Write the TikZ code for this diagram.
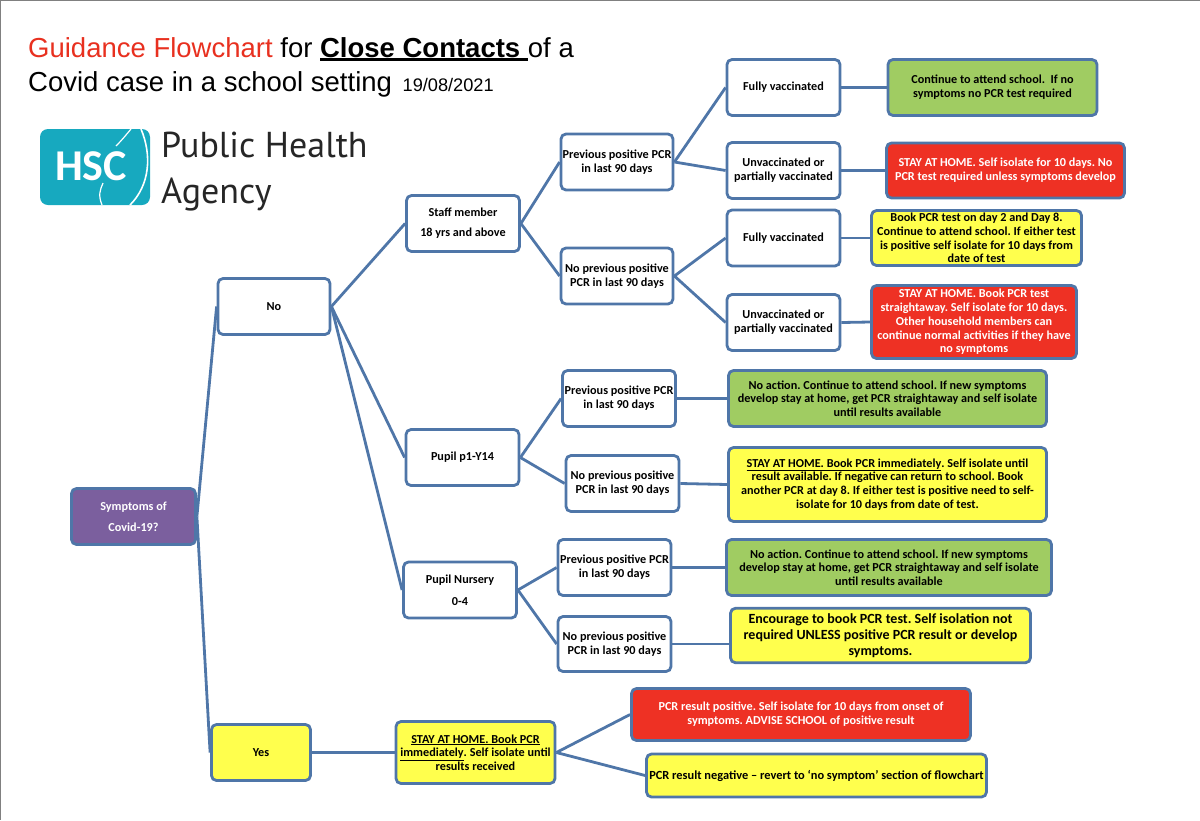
\documentclass[tikz,border=0pt]{standalone}
\usepackage{fontspec}
\setmainfont{Carlito}
\newfontfamily\titlefont{Liberation Sans}
\newfontfamily\logofont{PT Sans}
\definecolor{linkblue}{HTML}{4F76A8}
\definecolor{boxgreen}{HTML}{A0CC62}
\definecolor{boxred}{HTML}{EE3124}
\definecolor{boxyellow}{HTML}{FFFF4D}
\definecolor{boxpurple}{HTML}{7B5F9E}
\definecolor{logoteal}{HTML}{17A9BF}
\definecolor{titlered}{HTML}{E8301F}
\newcommand{\titleul}[1]{\setbox0\hbox{#1}\rlap{\rule[-4pt]{\wd0}{2.6pt}}\box0}
\tikzset{
    whitebox/.style={draw=linkblue, line width=2.8pt, rounded corners=5pt, fill=white, align=center, inner sep=0pt,
        font=\fontsize{12.2}{13.7}\selectfont\bfseries},
    greenbox/.style={whitebox, fill=boxgreen},
    redbox/.style={whitebox, fill=boxred, text=white},
    yellowbox/.style={whitebox, fill=boxyellow},
    link/.style={draw=linkblue, line width=2.8pt},
}
\begin{document}
\frenchspacing
\begin{tikzpicture}[x=1pt, y=-1pt]
    \useasboundingbox (0,0) rectangle (1200,820);
    % page edge
    \draw[gray, line width=2pt] (0,820) -- (0,0) -- (1200,0);
    % heading
    \node[anchor=base west, inner sep=0pt, font=\titlefont\fontsize{27.5}{30}\selectfont] (title1) at (28,57)
        {\textcolor{titlered}{Guidance Flowchart} for \titleul{\textbf{Close Contacts }}of a};
    \node[anchor=base west, inner sep=0pt, font=\titlefont\fontsize{27.5}{30}\selectfont] (title2) at (28,91)
        {Covid case in a school setting\hspace{3pt} {\fontsize{18.2}{20}\selectfont 19/08/2021}};
    % logo
    \fill[logoteal, rounded corners=8pt] (40,129) rectangle (150,205);
    \draw[white, line width=1.6pt] (141,129) .. controls (152,155) and (150,185) .. (130,205);
    \draw[white, line width=1.2pt] (116,146) .. controls (122,140) and (126,135) .. (131,129);
    \draw[white, line width=1.2pt] (102,205) .. controls (98,195) and (100,190) .. (103,183);
    \node[anchor=center, inner sep=0pt, text=white, font=\bfseries\fontsize{44}{46}\selectfont] (hsc) at (91,166) {HSC};
    \node[anchor=base west, inner sep=0pt, text=black!85, font=\logofont\fontsize{36}{40}\selectfont] (pha1) at (161,157) {Public Health};
    \node[anchor=base west, inner sep=0pt, text=black!85, font=\logofont\fontsize{36}{40}\selectfont] (pha2) at (161,203) {Agency};
    % first levels
    \node[whitebox, fill=boxpurple, text=white, minimum width=124, minimum height=56, font=\fontsize{12.2}{21}\selectfont\bfseries] (symptoms) at (133.5,516.5) {Symptoms of\\Covid-19?};
    \node[whitebox, minimum width=112, minimum height=56] (no) at (274,306.5) {No};
    \node[yellowbox, minimum width=99, minimum height=56] (yes) at (261,752.5) {Yes};
    \node[whitebox, minimum width=113, minimum height=56, font=\fontsize{12.2}{20}\selectfont\bfseries] (staff) at (463,223.5) {Staff member\\18 yrs and above};
    \node[whitebox, minimum width=113, minimum height=56] (pupil) at (462.5,457.5) {Pupil p1-Y14};
    \node[whitebox, minimum width=113, minimum height=56, font=\fontsize{12.2}{22}\selectfont\bfseries] (nursery) at (460,590) {Pupil Nursery\\0-4};
    % staff
    \node[whitebox, minimum width=112, minimum height=56] (staffprev) at (617,162) {Previous positive PCR\\in last 90 days};
    \node[whitebox, minimum width=112, minimum height=56] (staffnoprev) at (617,276) {No previous positive\\PCR in last 90 days};
    \node[whitebox, minimum width=113, minimum height=56] (full1) at (783.5,87.5) {Fully vaccinated};
    \node[whitebox, minimum width=113, minimum height=56] (part1) at (783.5,170.5) {Unvaccinated or\\partially vaccinated};
    \node[whitebox, minimum width=113, minimum height=56] (full2) at (783.5,238) {Fully vaccinated};
    \node[whitebox, minimum width=113, minimum height=56] (part2) at (783.5,322.5) {Unvaccinated or\\partially vaccinated};
    \node[greenbox, minimum width=209, minimum height=56] (stafffullA) at (992.5,87.5) {Continue to attend school.\ \ If no\\symptoms no PCR test required};
    \node[redbox, minimum width=238, minimum height=55] (staffpartA) at (1005.5,170.5) {STAY AT HOME. Self isolate for 10 days. No\\PCR test required unless symptoms develop};
    \node[yellowbox, minimum width=210, minimum height=55] (stafffullB) at (976.5,238) {Book PCR test on day 2 and Day 8.\\Continue to attend school. If either test\\is positive self isolate for 10 days from\\date of test};
    \node[redbox, minimum width=205, minimum height=73] (staffpartB) at (974,322) {STAY AT HOME. Book PCR test\\straightaway. Self isolate for 10 days.\\Other household members can\\continue normal activities if they have\\no symptoms};
    % pupil
    \node[whitebox, minimum width=113, minimum height=56] (pupilprev) at (619,398.5) {Previous positive PCR\\in last 90 days};
    \node[whitebox, minimum width=113, minimum height=56] (pupilnoprev) at (622.5,483.5) {No previous positive\\PCR in last 90 days};
    \node[greenbox, minimum width=318, minimum height=56] (pupilgreen) at (887.5,398.5) {No action. Continue to attend school. If new symptoms\\develop stay at home, get PCR straightaway and self isolate\\until results available};
    \node[yellowbox, minimum width=318, minimum height=74] (pupilyellow) at (887.5,484.5) {\underline{STAY AT HOME. Book PCR immediately}. Self isolate until\\result available. If negative can return to school. Book\\another PCR at day 8. If either test is positive need to self-\\isolate for 10 days from date of test.};
    % nursery
    \node[whitebox, minimum width=113, minimum height=56] (nurseryprev) at (614.5,567.5) {Previous positive PCR\\in last 90 days};
    \node[whitebox, minimum width=113, minimum height=55] (nurserynoprev) at (614.5,644) {No previous positive\\PCR in last 90 days};
    \node[greenbox, minimum width=325, minimum height=56] (nurserygreen) at (889,567.5) {No action. Continue to attend school. If new symptoms\\develop stay at home, get PCR straightaway and self isolate\\until results available};
    \node[yellowbox, minimum width=300, minimum height=54.5, font=\fontsize{14}{16}\selectfont\bfseries] (nurseryyellow) at (880.5,635.5) {Encourage to book PCR test. Self isolation not\\required UNLESS positive PCR result or develop\\symptoms.};
    % symptoms
    \node[yellowbox, minimum width=159, minimum height=62] (stayhome) at (475.5,752.5) {\underline{STAY AT HOME. Book PCR}\\\underline{immediately}. Self isolate until\\results received};
    \node[redbox, minimum width=339, minimum height=52] (positive) at (801,714.5) {PCR result positive. Self isolate for 10 days from onset of\\symptoms. ADVISE SCHOOL of positive result};
    \node[yellowbox, minimum width=340, minimum height=43, font=\fontsize{12.4}{13.7}\selectfont\bfseries] (negative) at (816.5,775.5) {PCR result negative – revert to ‘no symptom’ section of flowchart};
    % links
    \draw[link] (symptoms.east) -- (no.west);
    \draw[link] (symptoms.east) -- (yes.west);
    \draw[link] (no.east) -- (staff.west);
    \draw[link] (no.east) -- (pupil.west);
    \draw[link] (no.east) -- (nursery.west);
    \draw[link] (yes.east) -- (stayhome.west);
    \draw[link] (stayhome.east) -- (positive.west);
    \draw[link] (stayhome.east) -- (negative.west);
    \draw[link] (staff.east) -- (staffprev.west);
    \draw[link] (staff.east) -- (staffnoprev.west);
    \draw[link] (staffprev.east) -- (full1.west);
    \draw[link] (staffprev.east) -- (part1.west);
    \draw[link] (staffnoprev.east) -- (full2.west);
    \draw[link] (staffnoprev.east) -- (part2.west);
    \draw[link] (full1.east) -- (stafffullA.west);
    \draw[link] (part1.east) -- (staffpartA.west);
    \draw[link] (full2.east) -- (stafffullB.west);
    \draw[link] (part2.east) -- (staffpartB.west);
    \draw[link] (pupil.east) -- (pupilprev.west);
    \draw[link] (pupil.east) -- (pupilnoprev.west);
    \draw[link] (pupilprev.east) -- (pupilgreen.west);
    \draw[link] (pupilnoprev.east) -- (pupilyellow.west);
    \draw[link] (nursery.east) -- (nurseryprev.west);
    \draw[link] (nursery.east) -- (nurserynoprev.west);
    \draw[link] (nurseryprev.east) -- (nurserygreen.west);
    \draw[link] (nurserynoprev.east) -- (nurserynoprev.east -| nurseryyellow.west);
\end{tikzpicture}
\end{document}
